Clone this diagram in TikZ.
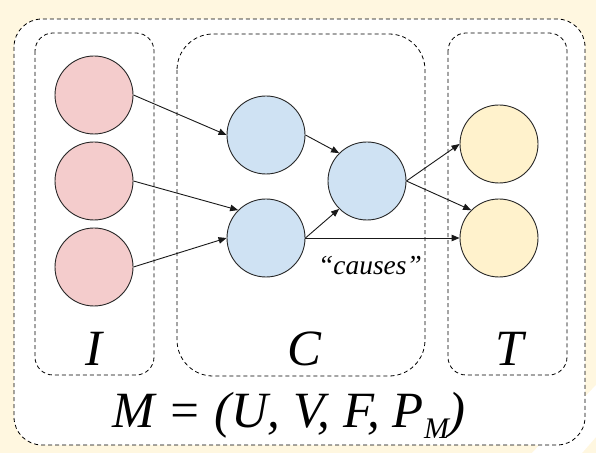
\documentclass[tikz,border=0pt]{standalone}
\usepackage{fontspec}
\setmainfont{Liberation Serif}
\usetikzlibrary{arrows.meta}
\definecolor{bgyellow}{HTML}{FFF7E0}
\definecolor{redfill}{HTML}{F4CCCC}
\definecolor{bluefill}{HTML}{CFE2F3}
\definecolor{yellowfill}{HTML}{FFF2CC}
\tikzset{
  grp/.style={draw=black, line width=0.8bp, dash pattern=on 4bp off 3bp},
  var/.style={circle, draw=black!85, line width=0.9bp, minimum size=78bp, inner sep=0pt},
  conn/.style={draw=black!90, line width=0.9bp, -{Triangle[length=8bp,width=6.5bp]}},
  biglbl/.style={anchor=base, inner sep=0pt, font=\fontsize{51}{51}\selectfont\itshape},
}
\begin{document}
\begin{tikzpicture}[x=1bp, y=-1bp]
\useasboundingbox (0,0) rectangle (596,453);
\fill[bgyellow] (0,0) rectangle (596,453);
\fill[white] (532,453) -- (596,385) -- (596,437) -- (582,453) -- cycle;
% groups
\draw[grp, fill=white, rounded corners=28bp] (14,19) rectangle (585,445);
\draw[grp, rounded corners=18bp] (35,33) rectangle (154,375);
\draw[grp, rounded corners=36bp] (177,34) rectangle (425,376);
\draw[grp, rounded corners=18bp] (448,33) rectangle (567,375);
% variables
\node[var, fill=redfill] (r1) at (94,95) {};
\node[var, fill=redfill] (r2) at (94,181) {};
\node[var, fill=redfill] (r3) at (94,267) {};
\node[var, fill=bluefill] (b1) at (266,135) {};
\node[var, fill=bluefill] (b2) at (266,238) {};
\node[var, fill=bluefill] (b3) at (367,181) {};
\node[var, fill=yellowfill] (y1) at (499,144) {};
\node[var, fill=yellowfill] (y2) at (499,238) {};
% connectors
\draw[conn] (r1.east) -- (b1.west);
\draw[conn] (r2.east) -- (b2.135);
\draw[conn] (r3.east) -- (b2.west);
\draw[conn] (b1.east) -- (b3.135);
\draw[conn] (b2.east) -- (b3.225);
\draw[conn] (b2.east) -- (y2.west);
\draw[conn] (b3.east) -- (y1.west);
\draw[conn] (b3.east) -- (y2.135);
% labels
\node[anchor=base, inner sep=0pt, font=\fontsize{27.5}{27.5}\selectfont\itshape] (causes) at (370,275) {“causes”};
\node[biglbl] (lI) at (94,365) {I};
\node[biglbl] (lC) at (304,365) {C};
\node[biglbl] (lT) at (510,365) {T};
\node[biglbl] (eq) at (289,427) {M = (U, V, F, P\raisebox{-11bp}{\fontsize{30}{30}\selectfont M})};
\end{tikzpicture}
\end{document}
